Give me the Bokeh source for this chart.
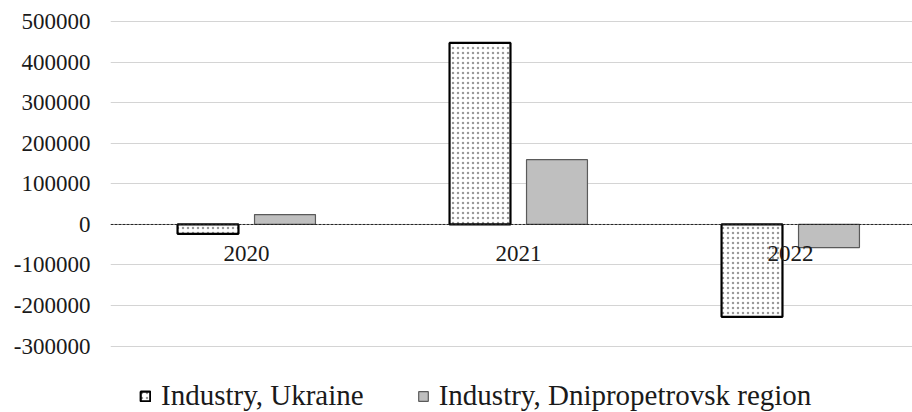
from bokeh.plotting import figure
from bokeh.layouts import column
from bokeh.models import Range1d, FixedTicker, Legend, LegendItem, ColumnDataSource, Span
from bokeh.core.properties import value
from bokeh.transform import dodge
from bokeh.embed import file_html
from bokeh.resources import INLINE

years = ["2020", "2021", "2022"]
ukraine = [-23000, 448000, -228000]
dnipro = [24500, 160000, -57000]
y_ticks = [-300000, -200000, -100000, 0, 100000, 200000, 300000, 400000, 500000]
series_names = ["Industry, Ukraine", "Industry, Dnipropetrovsk region"]

x = list(range(len(years)))
src = ColumnDataSource(dict(x=x, ukraine=ukraine, dnipro=dnipro, year=years, zero=[0] * len(years)))

FONT = "Liberation Serif"
TXT = "#1a1a1a"

UKR_STYLE = dict(fill_color="white", line_color="black", line_width=2.2,
                 hatch_pattern="dot", hatch_color="#9a9a9a", hatch_scale=5, hatch_weight=1.1)
DNI_STYLE = dict(fill_color="#bfbfbf", line_color="#5a5a5a", line_width=1.2)

p = figure(width=912, height=368, output_backend="svg", toolbar_location=None,
           x_range=Range1d(-0.5, -0.5 + 802 / 272), y_range=Range1d(-335700, 533000),
           min_border_left=110, min_border_right=0, min_border_top=8, min_border_bottom=8)
p.outline_line_color = None
p.background_fill_color = "white"
p.border_fill_color = "white"

p.xaxis.visible = False
p.xgrid.grid_line_color = None
p.ygrid.grid_line_color = "#d4d4d4"
p.ygrid.grid_line_width = 1

p.yaxis.ticker = FixedTicker(ticks=y_ticks)
p.yaxis.major_label_overrides = {t: str(t) for t in y_ticks}
p.yaxis.axis_line_color = None
p.yaxis.major_tick_line_color = None
p.yaxis.minor_tick_line_color = None
p.yaxis.major_tick_out = 0
p.yaxis.major_tick_in = 0
p.yaxis.major_label_standoff = 20
p.yaxis.major_label_text_font = FONT
p.yaxis.major_label_text_font_size = "23px"
p.yaxis.major_label_text_color = TXT

p.add_layout(Span(location=0, dimension="width", line_color="#222222",
                  line_dash="3 1", line_width=1))

r1 = p.vbar(x=dodge("x", -0.1415, range=p.x_range), top="ukraine", width=0.224, source=src, **UKR_STYLE)
r2 = p.vbar(x=dodge("x", 0.1415, range=p.x_range), top="dnipro", width=0.224, source=src, **DNI_STYLE)

p.text(x="x", y="zero", text="year", source=src, y_offset=29,
       text_align="center", text_baseline="middle",
       text_font=value(FONT), text_font_size="23px", text_color=TXT)

# legend strip (frame aligned with the main plot's frame)
lg = figure(width=912, height=44, output_backend="svg", toolbar_location=None,
            x_range=Range1d(0, 1), y_range=Range1d(0, 1),
            min_border_left=110, min_border_right=0, min_border_top=0, min_border_bottom=0)
lg.outline_line_color = None
lg.axis.visible = False
lg.grid.visible = False
dummy = ColumnDataSource(dict(x=[5], top=[0]))
d1 = lg.vbar(x="x", top="top", width=0.1, source=dummy, **UKR_STYLE)
d2 = lg.vbar(x="x", top="top", width=0.1, source=dummy, **DNI_STYLE)
legend = Legend(items=[LegendItem(label=series_names[0], renderers=[d1]),
                       LegendItem(label=series_names[1], renderers=[d2])],
                orientation="horizontal", location=(29, 0),
                glyph_width=12, glyph_height=12, label_standoff=10, spacing=53,
                padding=0, margin=0, border_line_color=None, background_fill_alpha=0,
                label_text_font=FONT, label_text_font_size="29px", label_text_color=TXT,
                label_text_line_height=1.0)
lg.add_layout(legend, "center")

layout = column(p, lg, spacing=0)
open("out.html", "w").write(file_html(layout, INLINE))
